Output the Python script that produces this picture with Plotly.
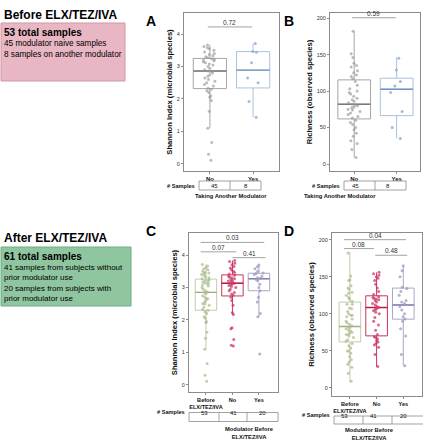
import plotly.graph_objects as go

W, H = 423, 440

# ---------------- DATA ----------------
groups_AB = ["No", "Yes"]
shannon_no = [0.11, 0.30, 0.66, 1.10, 1.62, 1.95, 2.05, 2.10, 2.20, 2.25, 2.30,
              2.33, 2.40, 2.45, 2.50, 2.55, 2.60, 2.65, 2.70, 2.75, 2.80, 2.84,
              2.86,
              2.90, 2.95, 3.00, 3.05, 3.08, 3.12, 3.15, 3.18, 3.20, 3.22, 3.24,
              3.27, 3.30, 3.33, 3.37, 3.40, 3.45, 3.50, 3.55, 3.58, 3.62, 3.66]
shannon_yes = [3.71, 3.46, 3.44, 3.12, 2.65, 2.50, 1.92, 1.44]
shannon_ab_q1 = [2.32, 2.34]
shannon_ab_median = [2.86, 2.89]
shannon_ab_q3 = [3.25, 3.46]
shannon_ab_lower = [1.10, 1.44]
shannon_ab_upper = [3.66, 3.71]
pval_A = ["0.72"]

richness_no = [9, 20, 28, 32, 38, 42, 47, 50, 54, 57, 60,
               63, 65, 68, 70, 72, 74, 75, 77, 78, 80, 81,
               82,
               84, 86, 88, 90, 93, 96, 98, 100, 103, 108, 113,
               117, 120, 122, 125, 128, 133, 135, 138, 146, 151, 182]
richness_yes = [145, 129, 113, 107, 98, 72, 50, 35]
richness_ab_q1 = [61.8, 66.3]
richness_ab_median = [82, 102.5]
richness_ab_q3 = [115.3, 117.6]
richness_ab_lower = [9, 35]
richness_ab_upper = [182, 146]
pval_B = ["0.59"]

groups_CD = ["Before ELX/TEZ/IVA", "No", "Yes"]
groups_CD_labels = ["Before<br>ELX/TEZ/IVA", "No", "Yes"]
shannon_before = shannon_no + shannon_yes
shannon_after_no = [1.20, 1.22, 1.40, 1.73, 1.76, 2.17, 2.22, 2.45, 2.60, 2.70,
                    2.76, 2.80, 2.85, 2.90, 2.95, 3.00, 3.03, 3.06, 3.09, 3.11,
                    3.13,
                    3.15, 3.18, 3.20, 3.22, 3.25, 3.27, 3.30, 3.32, 3.35, 3.38,
                    3.42, 3.46, 3.50, 3.55, 3.60, 3.65, 3.70, 3.75, 3.80, 3.83]
shannon_after_yes = [0.95, 2.10, 2.20, 2.55, 2.70, 2.90, 3.00, 3.10, 3.20, 3.25,
                     3.28, 3.30, 3.35, 3.40, 3.43, 3.45, 3.50, 3.58, 3.64, 3.69]
shannon_cd_q1 = [2.30, 2.74, 2.90]
shannon_cd_median = [2.85, 3.13, 3.27]
shannon_cd_q3 = [3.26, 3.39, 3.44]
shannon_cd_lower = [1.08, 2.17, 2.10]
shannon_cd_upper = [3.72, 3.83, 3.69]
pvals_C = ["0.03", "0.07", "0.41"]

richness_before = richness_no + richness_yes
richness_after_no = [29, 45, 55, 58, 60, 62, 64, 66, 68, 69,
                     72, 78, 85, 90, 95, 100, 102, 104, 106, 107,
                     108.5,
                     110, 112, 114, 116, 118, 119, 120, 121, 122, 123,
                     126, 130, 135, 140, 145, 148, 150, 152, 154, 156]
richness_after_yes = [30, 45, 70, 80, 90, 93, 96, 100, 105, 110,
                      114, 116, 118, 125, 130, 134, 136, 150, 158, 165]
richness_cd_q1 = [62.2, 70.3, 92.8]
richness_cd_median = [82.9, 108.5, 112]
richness_cd_q3 = [115.8, 124.3, 134.7]
richness_cd_lower = [8.6, 28.8, 30.6]
richness_cd_upper = [183, 156, 165]
pvals_D = ["0.04", "0.08", "0.48"]

before_lines = ["45 modulator naive samples", "8 samples on another modulator"]
after_lines = ["41 samples from subjects without", "prior modulator use",
               "20 samples from subjects with", "prior modulator use"]

# ---------------- STYLE ----------------
FONT = "Liberation Sans, Arial, sans-serif"
col_grey = ("#a6a6a6", "#7a7a7a", "rgba(150,150,150,0.65)")
col_blue = ("#a9c1dd", "#6f93c2", "rgba(140,170,210,0.8)")
col_green = ("#c2ccaa", "#9daf80", "rgba(170,185,140,0.7)")
col_red = ("#c9345e", "#b3204c", "rgba(205,55,100,0.75)")
col_purple = ("#aca6c8", "#8780ad", "rgba(160,150,195,0.75)")


def X(p):
    return p / W


def Y(p):
    return 1 - p / H


fig = go.Figure()


def add_boxes(xa, ya, cats, pts, q1, med, q3, lo, hi, cols, width):
    for i, c in enumerate(cats):
        line_c, med_c, pt_c = cols[i]
        fig.add_trace(go.Box(
            x=[c], q1=[q1[i]], median=[med[i]], q3=[q3[i]],
            lowerfence=[lo[i]], upperfence=[hi[i]],
            boxpoints=False, width=width, whiskerwidth=0,
            fillcolor="rgba(255,255,255,0)", line=dict(color=line_c, width=1),
            xaxis=xa, yaxis=ya, hoverinfo="skip"))
        fig.add_trace(go.Box(
            x=[c], q1=[med[i]], median=[med[i]], q3=[med[i]],
            lowerfence=[med[i]], upperfence=[med[i]],
            boxpoints=False, width=width, whiskerwidth=0,
            fillcolor="rgba(255,255,255,0)", line=dict(color=med_c, width=1.4),
            xaxis=xa, yaxis=ya, hoverinfo="skip"))
        fig.add_trace(go.Box(
            x=[c] * len(pts[i]), y=pts[i], boxpoints="all", jitter=0.45,
            pointpos=0, width=width,
            fillcolor="rgba(0,0,0,0)", line=dict(color="rgba(0,0,0,0)", width=0),
            marker=dict(size=3, color=pt_c),
            xaxis=xa, yaxis=ya, hoverinfo="skip"))


add_boxes("x", "y", groups_AB, [shannon_no, shannon_yes], shannon_ab_q1,
          shannon_ab_median, shannon_ab_q3, shannon_ab_lower, shannon_ab_upper,
          [col_grey, col_blue], 0.77)
add_boxes("x2", "y2", groups_AB, [richness_no, richness_yes], richness_ab_q1,
          richness_ab_median, richness_ab_q3, richness_ab_lower, richness_ab_upper,
          [col_grey, col_blue], 0.77)
add_boxes("x3", "y3", groups_CD, [shannon_before, shannon_after_no, shannon_after_yes],
          shannon_cd_q1, shannon_cd_median, shannon_cd_q3, shannon_cd_lower,
          shannon_cd_upper, [col_green, col_red, col_purple], 0.81)
add_boxes("x4", "y4", groups_CD, [richness_before, richness_after_no, richness_after_yes],
          richness_cd_q1, richness_cd_median, richness_cd_q3, richness_cd_lower,
          richness_cd_upper, [col_green, col_red, col_purple], 0.81)

frame = dict(showline=True, mirror=True, linecolor="#8c8c8c", linewidth=1,
             showgrid=False, zeroline=False, ticks="outside", ticklen=2,
             tickcolor="#8c8c8c", fixedrange=True)


def xax(dom, rng, cats, labels, anchor, size):
    d = dict(frame)
    d.update(domain=dom, range=rng, type="category", categoryorder="array",
             categoryarray=cats, tickvals=cats, anchor=anchor,
             ticktext=["<b>%s</b>" % t for t in labels],
             tickfont=dict(size=size, color="#111111", family=FONT))
    return d


def yax(dom, rng, dtick, title, anchor):
    d = dict(frame)
    d.update(domain=dom, range=rng, dtick=dtick, anchor=anchor,
             tickfont=dict(size=5.5, color="#333333", family=FONT),
             title=dict(text="<b>%s</b>" % title, font=dict(size=7.6, color="#111111"),
                        standoff=3))
    return d


fig.update_layout(
    width=W, height=H, margin=dict(l=0, r=0, t=0, b=0),
    paper_bgcolor="white", plot_bgcolor="white", showlegend=False,
    boxmode="overlay", font=dict(family=FONT, color="#111111"),
    xaxis=xax([X(184), X(279)], [-0.6, 1.6], groups_AB, groups_AB, "y", 6),
    yaxis=yax([Y(171), Y(13)], [-0.22, 4.65], 1, "Shannon Index (microbial species)", "x"),
    xaxis2=xax([X(330), X(420)], [-0.57, 1.55], groups_AB, groups_AB, "y2", 6),
    yaxis2=yax([Y(171), Y(13)], [-9.6, 207], 50, "Richness (observed species)", "x2"),
    xaxis3=xax([X(189), X(278)], [-0.64, 2.72], groups_CD, groups_CD_labels, "y3", 5.6),
    yaxis3=yax([Y(392), Y(233)], [-0.22, 4.68], 1, "Shannon Index (microbial species)", "x3"),
    xaxis4=xax([X(332), X(422)], [-0.67, 2.7], groups_CD, groups_CD_labels, "y4", 5.6),
    yaxis4=yax([Y(396), Y(233)], [-10.8, 209], 50, "Richness (observed species)", "x4"),
)

shapes = []
ann = []


def bracket(xa, ya, x0, x1, yv, label):
    shapes.append(dict(type="line", xref=xa, yref=ya, x0=x0, x1=x1, y0=yv, y1=yv,
                       line=dict(color="#8c8c8c", width=0.8)))
    ann.append(dict(xref=xa, yref=ya, x=(x0 + x1) / 2, y=yv, text=label,
                    showarrow=False, yanchor="bottom", yshift=-1,
                    font=dict(size=6.5, color="#333333")))


bracket("x", "y", -0.05, 0.98, 4.22, pval_A[0])
bracket("x2", "y2", -0.05, 0.98, 200.5, pval_B[0])
bracket("x3", "y3", -0.2, 2.2, 4.39, pvals_C[0])
bracket("x3", "y3", -0.2, 1.15, 4.10, pvals_C[1])
bracket("x3", "y3", 1.0, 2.25, 3.92, pvals_C[2])
bracket("x4", "y4", -0.22, 2.1, 200, pvals_D[0])
bracket("x4", "y4", -0.22, 0.9, 188, pvals_D[1])
bracket("x4", "y4", 0.95, 2.15, 179, pvals_D[2])

for letter, px, py in [("A", 151, 11), ("B", 296, 11), ("C", 151, 231), ("D", 296, 231)]:
    ann.append(dict(xref="paper", yref="paper", x=X(px), y=Y(py), text="<b>%s</b>" % letter,
                    showarrow=False, font=dict(size=14, color="#000000")))


def table(left, divs, right, top, bottom, counts, cap_lines, cap_x, cap_y):
    edges = [left] + divs + [right]
    shapes.append(dict(type="rect", xref="paper", yref="paper", x0=X(left), x1=X(right),
                       y0=Y(bottom), y1=Y(top), line=dict(color="#8c8c8c", width=0.8)))
    for d in divs:
        shapes.append(dict(type="line", xref="paper", yref="paper", x0=X(d), x1=X(d),
                           y0=Y(bottom), y1=Y(top), line=dict(color="#8c8c8c", width=0.8)))
    for i, n in enumerate(counts):
        ann.append(dict(xref="paper", yref="paper", x=X((edges[i] + edges[i + 1]) / 2),
                        y=Y((top + bottom) / 2), text=str(n), showarrow=False,
                        font=dict(size=6, color="#111111"), borderpad=0))
    ann.append(dict(xref="paper", yref="paper", x=X(left - 2), y=Y((top + bottom) / 2),
                    text="<b># Samples</b>", xanchor="right", showarrow=False,
                    font=dict(size=5.6, color="#111111")))
    ann.append(dict(xref="paper", yref="paper", x=X(cap_x), y=Y(cap_y), yanchor="top",
                    text="<br>".join("<b>%s</b>" % t for t in cap_lines), showarrow=False,
                    font=dict(size=5.8, color="#111111"), borderpad=0))


table(199, [230], 261, 181, 190, [len(shannon_no), len(shannon_yes)],
      ["Taking Another Modulator"], 231, 192)
table(344, [375], 406, 181, 190, [len(richness_no), len(richness_yes)],
      ["Taking Another Modulator"], 377, 192)
table(189, [219, 247], 278, 412.5, 421.5,
      [len(shannon_before), len(shannon_after_no), len(shannon_after_yes)],
      ["Modulator Before", "ELX/TEZ/IVA"], 250, 425)
table(334, [363, 392], 424, 416, 424,
      [len(richness_before), len(richness_after_no), len(richness_after_yes)],
      ["Modulator Before", "ELX/TEZ/IVA"], 395, 426)

shapes.append(dict(type="rect", xref="paper", yref="paper", x0=X(1), x1=X(125),
                   y0=Y(81), y1=Y(23), fillcolor="#e9b7c3", line=dict(color="#cf97a6", width=1),
                   layer="below"))
shapes.append(dict(type="rect", xref="paper", yref="paper", x0=X(1), x1=X(131),
                   y0=Y(306), y1=Y(247), fillcolor="#8fc6a0", line=dict(color="#6fae84", width=1),
                   layer="below"))


def txt(px, py, s, size, bold=False, anchor="middle"):
    ann.append(dict(xref="paper", yref="paper", x=X(px), y=Y(py), xanchor="left",
                    yanchor=anchor, align="left", borderpad=0,
                    text=("<b>%s</b>" % s) if bold else s, showarrow=False,
                    font=dict(size=size, color="#000000")))


txt(3, 15, "Before ELX/TEZ/IVA", 12, True)
txt(3, 32, "53 total samples", 10, True)
txt(3, 38, "<br>".join(before_lines), 8.2, anchor="top")

txt(3, 238, "After ELX/TEZ/IVA", 12, True)
txt(3, 256, "61 total samples", 10, True)
txt(3, 262, "<br>".join(after_lines), 8, anchor="top")

fig.update_layout(shapes=shapes, annotations=ann)
fig.write_html("out.html", config={"displayModeBar": False},
               post_script="document.body.style.margin='0';document.body.style.overflow='hidden';")
